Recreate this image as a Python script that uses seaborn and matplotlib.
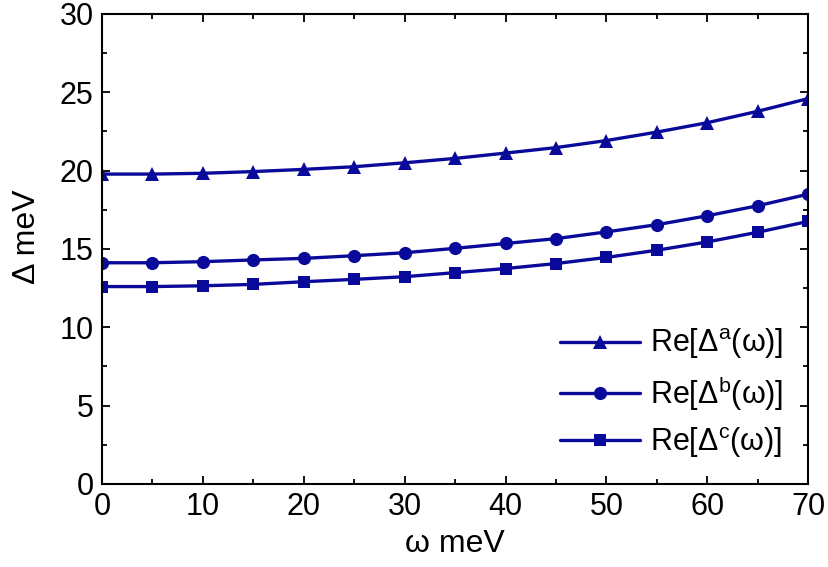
import matplotlib
matplotlib.use("Agg")
import matplotlib.pyplot as plt
from matplotlib.ticker import MultipleLocator
import seaborn as sns
import pandas as pd

omega = [0, 5, 10, 15, 20, 25, 30, 35, 40, 45, 50, 55, 60, 65, 70]
re_delta_a = [19.78, 19.78, 19.83, 19.94, 20.08, 20.25, 20.5, 20.78, 21.12, 21.47, 21.92, 22.46, 23.06, 23.79, 24.6]
re_delta_b = [14.12, 14.12, 14.19, 14.3, 14.4, 14.57, 14.76, 15.04, 15.35, 15.66, 16.09, 16.55, 17.12, 17.76, 18.5]
re_delta_c = [12.6, 12.6, 12.65, 12.74, 12.91, 13.06, 13.23, 13.49, 13.75, 14.07, 14.46, 14.92, 15.45, 16.07, 16.76]
labels = ["Re[Δ$^{a}$(ω)]", "Re[Δ$^{b}$(ω)]", "Re[Δ$^{c}$(ω)]"]
markers = ["^", "o", "s"]

sns.set_style("ticks")
plt.rcParams["font.family"] = ["Liberation Sans", "DejaVu Sans"]
plt.rcParams["mathtext.fontset"] = "custom"
plt.rcParams["mathtext.rm"] = "Liberation Sans"
plt.rcParams["mathtext.it"] = "Liberation Sans"
plt.rcParams["mathtext.default"] = "regular"
plt.rcParams["text.color"] = "black"
plt.rcParams["axes.labelcolor"] = "black"
plt.rcParams["xtick.color"] = "black"
plt.rcParams["ytick.color"] = "black"

color = "#0a0a9a"
fig = plt.figure(figsize=(8.29, 5.67), dpi=100)
ax = fig.add_axes([0.123, 0.1464, 0.852, 0.829])

sizes = {"^": 10, "o": 9.5, "s": 8.3}
for vals, lab, mk in zip([re_delta_a, re_delta_b, re_delta_c], labels, markers):
    df = pd.DataFrame({"omega": omega, "delta": vals})
    sns.lineplot(data=df, x="omega", y="delta", ax=ax, color=color, lw=2.4,
                 marker=mk, markersize=sizes[mk], markeredgewidth=0, label=lab)

ax.set_xlim(0, 70)
ax.set_ylim(0, 30)
ax.xaxis.set_major_locator(MultipleLocator(10))
ax.xaxis.set_minor_locator(MultipleLocator(5))
ax.yaxis.set_major_locator(MultipleLocator(5))
ax.yaxis.set_minor_locator(MultipleLocator(2.5))
ax.tick_params(which="both", direction="in", top=True, right=True, width=1.3, colors="black")
ax.tick_params(which="major", length=6, labelsize=22)
ax.tick_params(which="minor", length=3.5)
ax.tick_params(axis="x", pad=6)
ax.tick_params(axis="y", pad=6)
for s in ax.spines.values():
    s.set_linewidth(1.5)
    s.set_color("black")

ax.set_xlabel("ω meV", fontsize=23)
ax.set_ylabel("Δ meV", fontsize=23)
ax.xaxis.set_label_coords(0.5, -0.095)
ax.yaxis.set_label_coords(-0.085, 0.525)

leg = ax.legend(loc="lower right", frameon=False, fontsize=22, handlelength=2.6,
                labelspacing=0.4, handletextpad=0.35, borderaxespad=0.4)
for t in leg.get_texts():
    t.set_color("black")

fig.savefig("out.png", dpi=100)
